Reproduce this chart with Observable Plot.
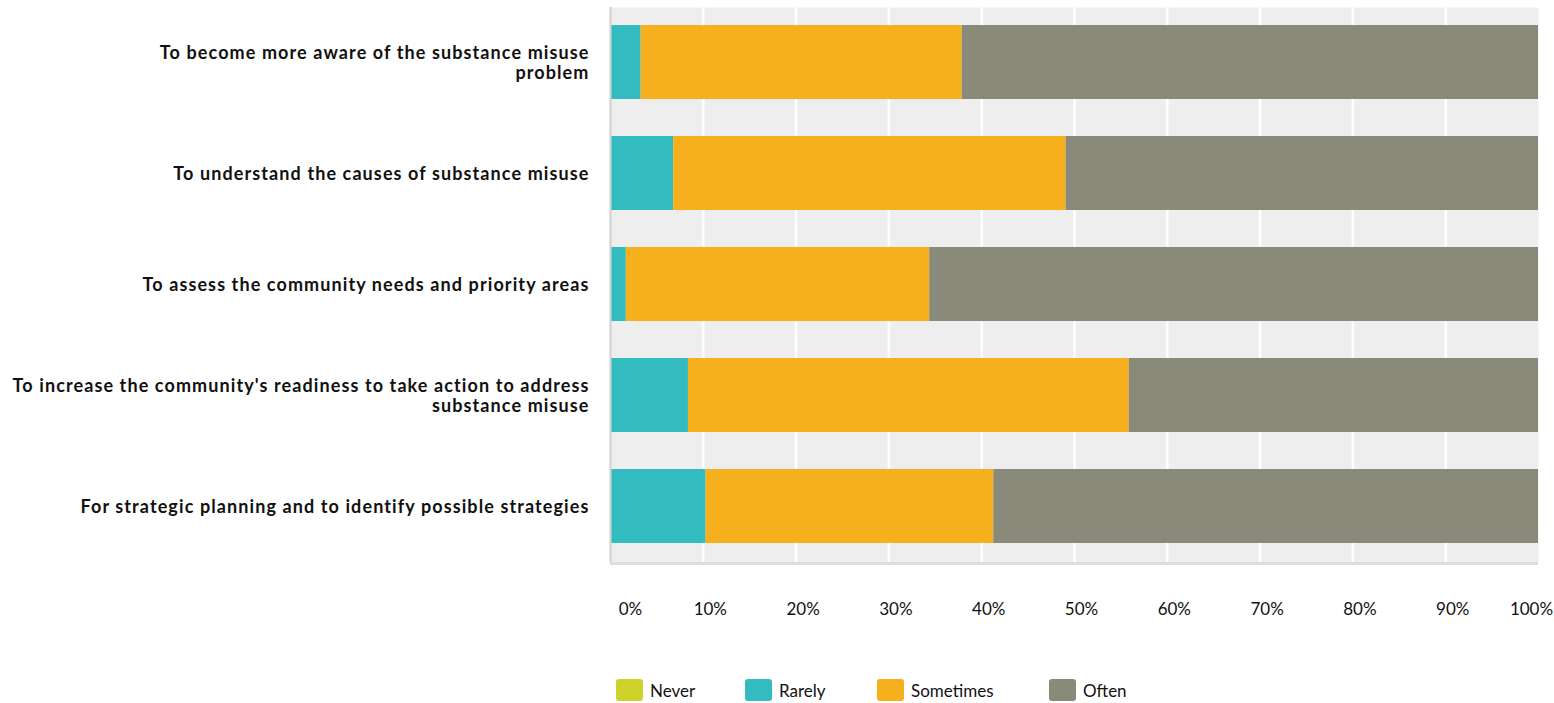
<!DOCTYPE html>
<html>
<head>
<meta charset="utf-8">
<script src="https://cdn.jsdelivr.net/npm/d3@7"></script>
<script src="https://cdn.jsdelivr.net/npm/@observablehq/plot@0.6"></script>
<style>
  html, body { margin: 0; padding: 0; background: #fff; }
  body { width: 1554px; height: 703px; overflow: hidden; font-family: Lato, "Open Sans", sans-serif; }
  #legend { position: relative; height: 53px; }
  .item { position: absolute; top: 29px; display: flex; align-items: center; font-size: 17px; color: #111; }
  .sw { width: 27px; height: 22px; border-radius: 3px; margin-right: 7px; }
  g[aria-label="y-axis tick label"] text { letter-spacing: 1.1px; }
</style>
</head>
<body>
<div id="chart"></div>
<div id="legend"></div>
<script>
const categories = [
  "To become more aware of the substance misuse\nproblem",
  "To understand the causes of substance misuse",
  "To assess the community needs and priority areas",
  "To increase the community's readiness to take action to address\nsubstance misuse",
  "For strategic planning and to identify possible strategies"
];
const responses = ["Never", "Rarely", "Sometimes", "Often"];
const colors = ["#cdd32a", "#33bcbf", "#f6af1d", "#8a8a7a"];
const never     = [0, 0, 0, 0, 0];
const rarely    = [3.3, 6.8, 1.7, 8.4, 10.3];
const sometimes = [34.6, 42.3, 32.7, 47.5, 31.0];
const often     = [62.1, 50.9, 65.6, 44.1, 58.7];
const xTicks = [0, 10, 20, 30, 40, 50, 60, 70, 80, 90, 100];
const xTickLabels = ["0%", "10%", "20%", "30%", "40%", "50%", "60%", "70%", "80%", "90%", "100%"];

const series = [never, rarely, sometimes, often];
const data = [];
categories.forEach((c, i) => {
  responses.forEach((r, j) => data.push({cat: c, resp: r, value: series[j][i]}));
});

const chart = Plot.plot({
  width: 1554,
  height: 650,
  marginTop: 7,
  marginBottom: 88,
  marginLeft: 610,
  marginRight: 16,
  style: {fontFamily: "Lato, 'Open Sans', sans-serif", background: "#fff"},
  x: {domain: [0, 100], axis: null},
  y: {domain: categories, paddingInner: 0.33, paddingOuter: 0.165, axis: null, label: null},
  color: {domain: responses, range: colors},
  marks: [
    Plot.frame({fill: "#eeeeee", stroke: null}),
    Plot.ruleX(xTicks.slice(1, -1), {stroke: "#ffffff", strokeWidth: 2.5}),
    Plot.barX(data, {x: "value", y: "cat", fill: "resp", order: responses}),
    Plot.rect([0], {x1: 0, x2: 100, fill: "#dddddd", insetTop: 552, dy: 3}),
    Plot.ruleX([0], {stroke: "#d2d2d2", strokeWidth: 2}),
    Plot.axisY({label: null, tickSize: 0, tickPadding: 21, fontSize: 18, fontWeight: "bold", fill: "#111", lineHeight: 1.12, textAnchor: "end"}),
    Plot.text(xTicks.slice(1, -1), {x: d => d, text: (d, i) => xTickLabels[i + 1], frameAnchor: "bottom", dy: 52, dx: 7, fontSize: 17, fill: "#111"}),
    Plot.text([xTicks[0]], {x: d => d, text: () => xTickLabels[0], frameAnchor: "bottom", dy: 52, dx: 20, fontSize: 17, fill: "#111"}),
    Plot.text([xTicks[xTicks.length - 1]], {x: d => d, text: () => xTickLabels[xTicks.length - 1], frameAnchor: "bottom", dy: 52, dx: -7, fontSize: 17, fill: "#111"})
  ]
});
document.getElementById("chart").appendChild(chart);

const legend = document.getElementById("legend");
const lefts = [616, 745, 877, 1049];
responses.forEach((r, i) => {
  const it = document.createElement("div");
  it.className = "item";
  it.style.left = lefts[i] + "px";
  const sw = document.createElement("div");
  sw.className = "sw";
  sw.style.background = colors[i];
  const t = document.createElement("span");
  t.textContent = r;
  it.appendChild(sw);
  it.appendChild(t);
  legend.appendChild(it);
});
</script>
</body>
</html>
